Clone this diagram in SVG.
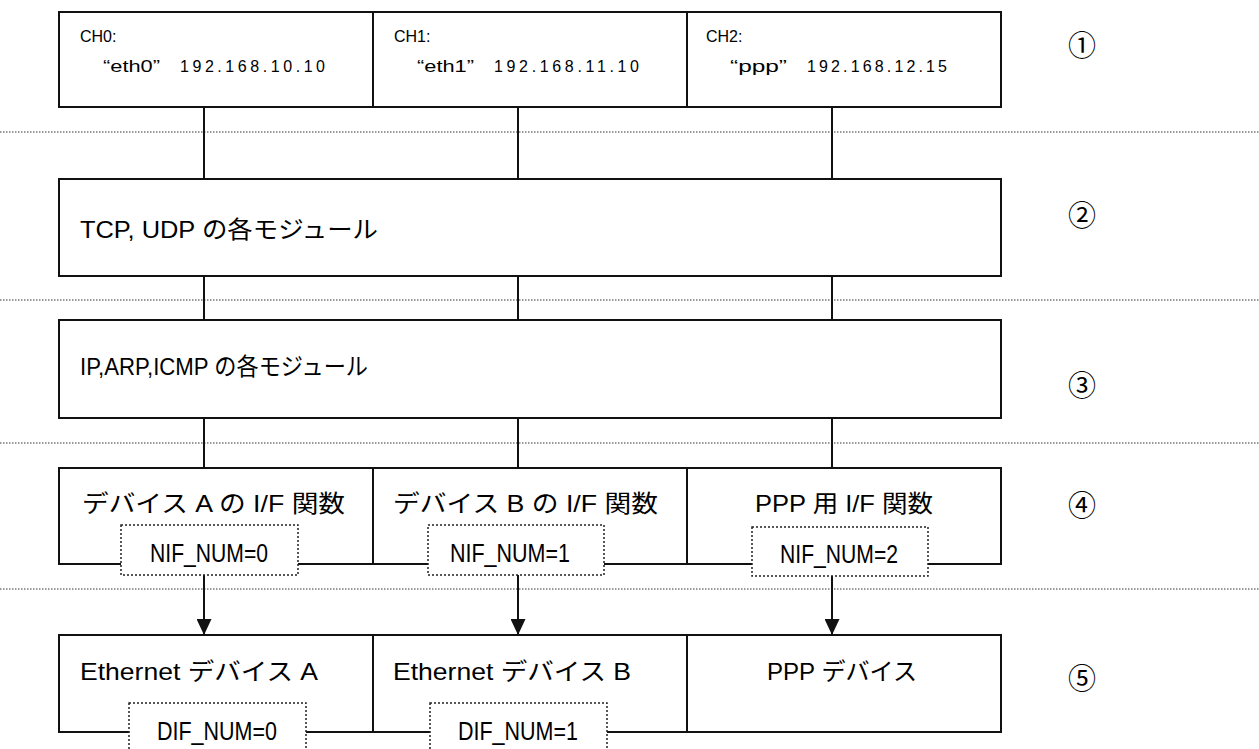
<svg xmlns="http://www.w3.org/2000/svg" width="1259" height="749" viewBox="0 0 1259 749">
<style>
  .box{fill:#fff;stroke:#111;stroke-width:2}
  .tag{fill:#fff;stroke:#222;stroke-width:1.5;stroke-dasharray:2 2}
  .sep{stroke:#333;stroke-width:1;stroke-dasharray:1.5 1.5}
  .con{stroke:#111;stroke-width:2;fill:none}
  text{font-family:"Liberation Sans","Noto Sans CJK JP",sans-serif;fill:#000}
  .s{font-size:16px}
  .m{font-size:24px}
  .n{font-size:25px}
  .num{font-family:"Noto Sans CJK JP",sans-serif;font-size:28px;text-anchor:middle}
</style>
<defs>
  <marker id="arr" markerUnits="userSpaceOnUse" markerWidth="16" markerHeight="15" viewBox="0 0 16 15" refX="16" refY="7.5" orient="auto">
    <path d="M0,0 L16,7.5 L0,15 z" fill="#111"/>
  </marker>
</defs>
<rect width="1259" height="749" fill="#fff"/>
<g id="separators">
  <line class="sep" x1="0" y1="132" x2="1259" y2="132"/>
  <line class="sep" x1="0" y1="300" x2="1259" y2="300"/>
  <line class="sep" x1="0" y1="443" x2="1259" y2="443"/>
  <line class="sep" x1="0" y1="589" x2="1259" y2="589"/>
</g>
<g id="connectors">
  <line class="con" x1="204" y1="107" x2="204" y2="179"/>
  <line class="con" x1="518" y1="107" x2="518" y2="179"/>
  <line class="con" x1="832" y1="107" x2="832" y2="179"/>
  <line class="con" x1="204" y1="276" x2="204" y2="320"/>
  <line class="con" x1="518" y1="276" x2="518" y2="320"/>
  <line class="con" x1="832" y1="276" x2="832" y2="320"/>
  <line class="con" x1="204" y1="418" x2="204" y2="468"/>
  <line class="con" x1="518" y1="418" x2="518" y2="468"/>
  <line class="con" x1="832" y1="418" x2="832" y2="468"/>
  <line class="con" x1="204" y1="575" x2="204" y2="635" marker-end="url(#arr)"/>
  <line class="con" x1="518" y1="575" x2="518" y2="635" marker-end="url(#arr)"/>
  <line class="con" x1="832" y1="576" x2="832" y2="635" marker-end="url(#arr)"/>
</g>
<g id="ch0">
  <rect class="box" x="59" y="12" width="314" height="95"/>
  <text class="s" x="80" y="42">CH0:</text>
  <text class="s" y="72"><tspan x="103" textLength="57" lengthAdjust="spacingAndGlyphs">“eth0”</tspan><tspan x="180" textLength="145">192.168.10.10</tspan></text>
</g>
<g id="ch1">
  <rect class="box" x="373" y="12" width="314" height="95"/>
  <text class="s" x="394" y="42">CH1:</text>
  <text class="s" y="72"><tspan x="417" textLength="57" lengthAdjust="spacingAndGlyphs">“eth1”</tspan><tspan x="494" textLength="145">192.168.11.10</tspan></text>
</g>
<g id="ch2">
  <rect class="box" x="687" y="12" width="314" height="95"/>
  <text class="s" x="706" y="42">CH2:</text>
  <text class="s" y="72"><tspan x="730" textLength="57" lengthAdjust="spacingAndGlyphs">“ppp”</tspan><tspan x="807" textLength="140">192.168.12.15</tspan></text>
</g>
<g id="tcp-udp">
  <rect class="box" x="59" y="179" width="942" height="97"/>
  <text class="m" x="80" y="238" textLength="298" lengthAdjust="spacingAndGlyphs">TCP, UDP の各モジュール</text>
</g>
<g id="ip-arp-icmp">
  <rect class="box" x="59" y="320" width="942" height="98"/>
  <text class="m" x="80" y="375" textLength="288" lengthAdjust="spacingAndGlyphs">IP,ARP,ICMP の各モジュール</text>
</g>
<g id="if-a">
  <rect class="box" x="59" y="468" width="314" height="96"/>
  <text class="m" x="82" y="512" textLength="263" lengthAdjust="spacingAndGlyphs">デバイス A の I/F 関数</text>
</g>
<g id="if-b">
  <rect class="box" x="373" y="468" width="314" height="96"/>
  <text class="m" x="393" y="512" textLength="265" lengthAdjust="spacingAndGlyphs">デバイス B の I/F 関数</text>
</g>
<g id="if-ppp">
  <rect class="box" x="687" y="468" width="314" height="96"/>
  <text class="m" x="755" y="512" textLength="178" lengthAdjust="spacingAndGlyphs">PPP 用 I/F 関数</text>
</g>
<g id="nif0">
  <rect class="tag" x="121" y="525" width="177" height="50"/>
  <text class="n" x="150" y="562" textLength="118" lengthAdjust="spacingAndGlyphs">NIF_NUM=0</text>
</g>
<g id="nif1">
  <rect class="tag" x="428" y="525" width="176" height="50"/>
  <text class="n" x="450" y="562" textLength="120" lengthAdjust="spacingAndGlyphs">NIF_NUM=1</text>
</g>
<g id="nif2">
  <rect class="tag" x="752" y="527" width="176" height="49"/>
  <text class="n" x="780" y="563" textLength="118" lengthAdjust="spacingAndGlyphs">NIF_NUM=2</text>
</g>
<g id="eth-a">
  <rect class="box" x="59" y="635" width="314" height="97"/>
  <text class="m" x="80" y="680" textLength="238" lengthAdjust="spacingAndGlyphs">Ethernet デバイス A</text>
</g>
<g id="eth-b">
  <rect class="box" x="373" y="635" width="314" height="97"/>
  <text class="m" x="393" y="680" textLength="238" lengthAdjust="spacingAndGlyphs">Ethernet デバイス B</text>
</g>
<g id="ppp-dev">
  <rect class="box" x="687" y="635" width="314" height="97"/>
  <text class="m" x="767" y="680" textLength="150" lengthAdjust="spacingAndGlyphs">PPP デバイス</text>
</g>
<g id="dif0">
  <rect class="tag" x="129" y="703" width="177" height="52"/>
  <text class="n" x="157" y="740" textLength="120" lengthAdjust="spacingAndGlyphs">DIF_NUM=0</text>
</g>
<g id="dif1">
  <rect class="tag" x="430" y="703" width="177" height="52"/>
  <text class="n" x="458" y="740" textLength="120" lengthAdjust="spacingAndGlyphs">DIF_NUM=1</text>
</g>
<g id="layer-labels">
  <text class="num" x="1082" y="56">①</text>
  <text class="num" x="1082" y="226">②</text>
  <text class="num" x="1082" y="396">③</text>
  <text class="num" x="1082" y="516">④</text>
  <text class="num" x="1082" y="689">⑤</text>
</g>
</svg>
